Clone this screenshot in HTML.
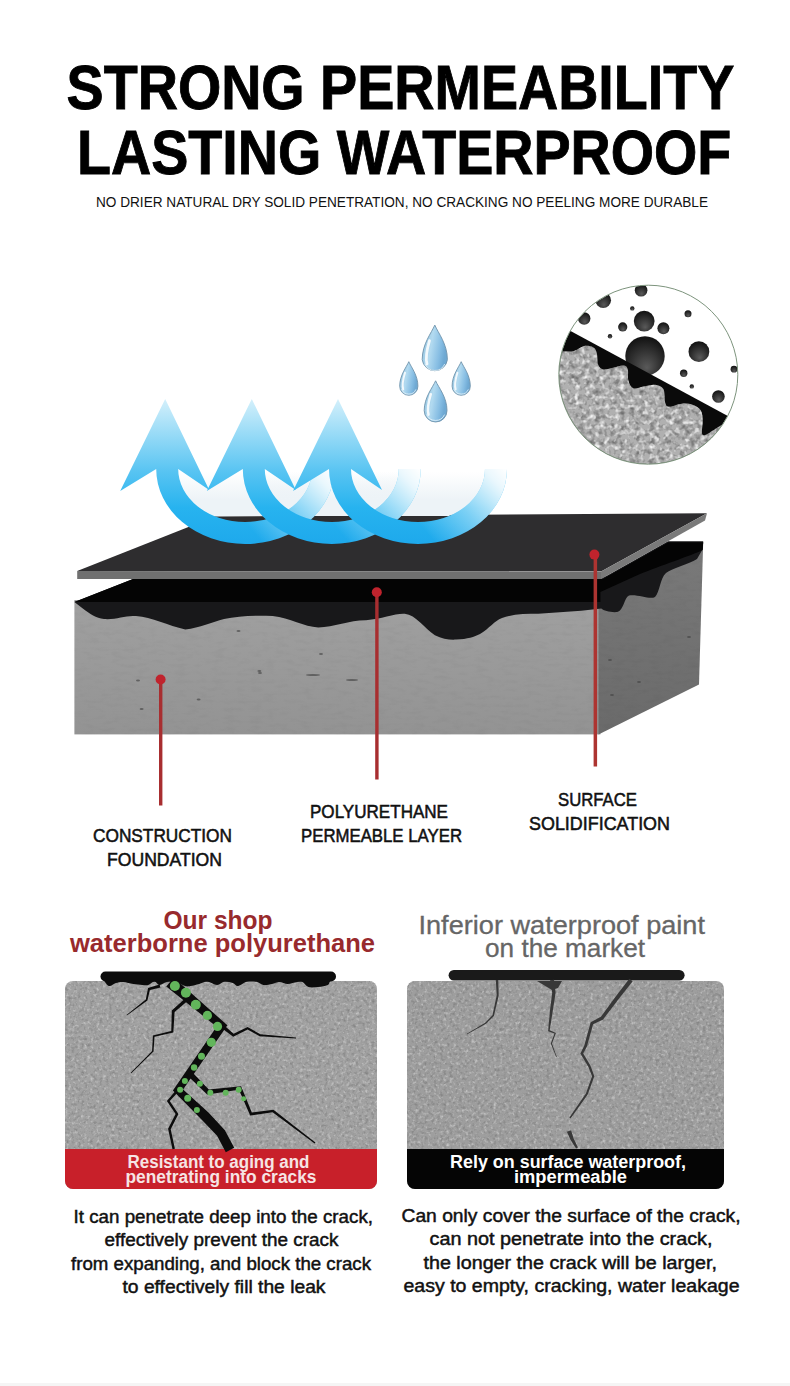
<!DOCTYPE html>
<html><head><meta charset="utf-8">
<style>
html,body{margin:0;padding:0;background:#fff;}
body{width:790px;height:1386px;overflow:hidden;position:relative;}
svg{position:absolute;left:0;top:0;display:block;}
text{font-family:"Liberation Sans", sans-serif;}
</style></head>
<body>
<svg width="790" height="1386" viewBox="0 0 790 1386">
<defs>
  <linearGradient id="arrowGrad" x1="0" y1="0" x2="0" y2="1">
    <stop offset="0" stop-color="#d4f0fb"/>
    <stop offset="0.45" stop-color="#62c9f3"/>
    <stop offset="0.7" stop-color="#2db8f0"/>
    <stop offset="1" stop-color="#1ea9ec"/>
  </linearGradient>
  <linearGradient id="fadeGrad" x1="0" y1="0" x2="1" y2="0">
    <stop offset="0" stop-color="#fff"/>
    <stop offset="0.55" stop-color="#fff"/>
    <stop offset="1" stop-color="#000"/>
  </linearGradient>
  <linearGradient id="dropGrad" x1="0" y1="0" x2="1" y2="0.3">
    <stop offset="0" stop-color="#8dbfdc"/>
    <stop offset="0.45" stop-color="#b2daf0"/>
    <stop offset="0.8" stop-color="#86bde3"/>
    <stop offset="1" stop-color="#6fa9d3"/>
  </linearGradient>
  <radialGradient id="ball" cx="0.5" cy="0.65" r="0.6" fx="0.55" fy="0.8">
    <stop offset="0" stop-color="#5a5a5a"/>
    <stop offset="1" stop-color="#151515"/>
  </radialGradient>
  <clipPath id="circClip"><circle cx="648.3" cy="374.7" r="89.3"/></clipPath>
  <filter id="speckle" x="0" y="0" width="100%" height="100%">
    <feTurbulence type="fractalNoise" baseFrequency="0.2" numOctaves="2" seed="3" result="n"/>
    <feColorMatrix type="matrix" in="n" values="0 0 0 0 0  0 0 0 0 0  0 0 0 0 0  0 0 0 -2.2 1.25" result="a"/>
    <feComposite in="SourceGraphic" in2="a" operator="in"/>
  </filter>
  <filter id="speckleW" x="0" y="0" width="100%" height="100%">
    <feTurbulence type="fractalNoise" baseFrequency="0.2" numOctaves="2" seed="7" result="n"/>
    <feColorMatrix type="matrix" in="n" values="0 0 0 0 1  0 0 0 0 1  0 0 0 0 1  0 0 0 2.4 -1.2" result="a"/>
    <feComposite in="a" in2="SourceGraphic" operator="in"/>
  </filter>
  <filter id="speckle2" x="0" y="0" width="100%" height="100%">
    <feTurbulence type="fractalNoise" baseFrequency="0.32" numOctaves="2" seed="11" result="n"/>
    <feColorMatrix type="matrix" in="n" values="0 0 0 0 0  0 0 0 0 0  0 0 0 0 0  0 0 0 -1.8 0.95" result="a"/>
    <feComposite in="SourceGraphic" in2="a" operator="in"/>
  </filter>
  <filter id="speckle2W" x="0" y="0" width="100%" height="100%">
    <feTurbulence type="fractalNoise" baseFrequency="0.32" numOctaves="2" seed="19" result="n"/>
    <feColorMatrix type="matrix" in="n" values="0 0 0 0 1  0 0 0 0 1  0 0 0 0 1  0 0 0 1.8 -0.95" result="a"/>
    <feComposite in="a" in2="SourceGraphic" operator="in"/>
  </filter>
  <linearGradient id="frontGrad" x1="0" y1="0" x2="0" y2="1">
    <stop offset="0" stop-color="#a0a0a0"/>
    <stop offset="1" stop-color="#939393"/>
  </linearGradient>
  <linearGradient id="sideGrad" x1="0" y1="0" x2="0" y2="1">
    <stop offset="0" stop-color="#7a7a7a"/>
    <stop offset="1" stop-color="#6a6a6a"/>
  </linearGradient>
  <filter id="concN" x="0" y="0" width="100%" height="100%">
    <feTurbulence type="fractalNoise" baseFrequency="0.08 0.25" numOctaves="3" seed="23" result="n"/>
    <feColorMatrix type="matrix" in="n" values="0 0 0 0 0  0 0 0 0 0  0 0 0 0 0  0 0 0 -1.6 0.85" result="a"/>
    <feComposite in="SourceGraphic" in2="a" operator="in"/>
  </filter>
</defs>
<!-- HEADLINE -->
<g id="head" font-weight="bold" fill="#000">
  <text x="66.6" y="108.5" font-size="63.2" stroke="#000" stroke-width="0.9" textLength="667.8" lengthAdjust="spacingAndGlyphs">STRONG PERMEABILITY</text>
  <text x="77" y="173.8" font-size="63.2" stroke="#000" stroke-width="0.9" textLength="654.3" lengthAdjust="spacingAndGlyphs">LASTING WATERPROOF</text>
  <text x="96" y="207" font-size="14" font-weight="normal" fill="#111" textLength="612" lengthAdjust="spacingAndGlyphs">NO DRIER NATURAL DRY SOLID PENETRATION, NO CRACKING NO PEELING MORE DURABLE</text>
</g>


<!-- SLAB -->
<g id="slab">
  <!-- front face concrete -->
  <rect x="74.4" y="600" width="526" height="134.4" fill="url(#frontGrad)"/>
  <rect x="74.4" y="600" width="526" height="134.4" fill="#6a6a6a" filter="url(#concN)" opacity="0.15"/>
  <g fill="#4a4a4a" opacity="0.7">
    <ellipse cx="138" cy="680.6" rx="2" ry="1"/><ellipse cx="141.6" cy="709" rx="2" ry="1"/><ellipse cx="198.6" cy="699.6" rx="2" ry="1"/>
    <ellipse cx="238.5" cy="631" rx="2" ry="1"/><ellipse cx="259.4" cy="671" rx="2" ry="1"/><ellipse cx="313" cy="675" rx="7" ry="1"/>
    <ellipse cx="352" cy="680" rx="6" ry="1"/><ellipse cx="260" cy="673" rx="2" ry="1"/><ellipse cx="321" cy="654" rx="2" ry="1"/>
  </g>
  <!-- side face -->
  <path d="M598.5,579 L703.2,542.2 L699,684.6 L598.5,734.4 Z" fill="url(#sideGrad)"/>
  <path d="M598.5,579 L703.2,542.2 L699,684.6 L598.5,734.4 Z" fill="#4a4a4a" filter="url(#concN)" opacity="0.15"/>
  <g fill="#454545" opacity="0.7"><ellipse cx="610" cy="660" rx="2" ry="1"/><ellipse cx="639" cy="682" rx="2" ry="1"/><ellipse cx="612" cy="695" rx="2" ry="1"/><ellipse cx="689" cy="637" rx="2" ry="1"/></g>
  <!-- dark wave layer -->
  <path d="M74.4,602 L82.8,608.5 C90,614 96,618 104,619 C116,620 126,615 136,616.1 C152,617 168,626 185.3,629.4 C200,628 212,622 224,619 C238,616 256,615 272.7,616.1 C290,618 304,627 318.3,627.5 C334,627 350,620 366,620.2 C382,619 396,613 404.8,613.8 C416,615 424,628 434.9,635.3 C442,639 450,640 456,639.6 C468,639 474,637 480,634 C490,628 494,621 502,618 C512,614 526,613.8 538.2,613.8 L581.2,610.8 L601.3,608.6 C604,611 610,612.5 617.2,612.1 C624,610 624,598 629,595.5 C638,594 650,600 655,597 C660,592 660,578 666,573 C672,568 690,564 697,559 L702.8,549 L703.2,541.2 L668,541.2 L601,579 L133,579 Z" fill="#18181a"/>
  <!-- pure black top band -->
  <path d="M74.4,602 L133,579 L603,579 L668.6,542.2 L703.2,542.2 L702.6,550 C690,556 660,566 640,574 L600.4,592 L600.4,602 Z" fill="#040404"/>
  <!-- sheet -->
  <path d="M77.2,571 L215,516.5 L707,513.3 L601,571.5 Z" fill="#2e2d2f"/>
  <path d="M77.2,571 L601,571.5 L601,579 L77.2,579 Z" fill="#707070"/>
  <path d="M601,571.5 L707,513.3 L705,520.5 L601,579 Z" fill="#7a7a7a"/>
</g>
<!-- MARKERS -->
<g fill="#c0232d">
  <rect x="159" y="679" width="3.4" height="126.5" fill="#a82e30"/>
  <circle cx="160.6" cy="679.5" r="5"/>
  <rect x="375.2" y="592" width="3.4" height="187.5" fill="#a82e30"/>
  <circle cx="376.8" cy="592.3" r="5"/>
  <rect x="593.6" y="554" width="3.5" height="212.5" fill="#ad3431"/>
  <circle cx="594.4" cy="554.6" r="5"/>
</g>
<!-- ARROWS -->
<mask id="m1" maskUnits="userSpaceOnUse" x="100" y="390" width="250" height="170"><rect x="100" y="390" width="250" height="170" fill="url(#fadeG1)"/></mask>
<linearGradient id="fadeG1" gradientUnits="userSpaceOnUse" x1="245" y1="0" x2="334" y2="0"><stop offset="0" stop-color="#fff"/><stop offset="1" stop-color="#000"/></linearGradient>
<linearGradient id="fadeG2" gradientUnits="userSpaceOnUse" x1="332" y1="0" x2="421" y2="0"><stop offset="0" stop-color="#fff"/><stop offset="1" stop-color="#000"/></linearGradient>
<linearGradient id="fadeG3" gradientUnits="userSpaceOnUse" x1="418" y1="0" x2="507" y2="0"><stop offset="0" stop-color="#fff"/><stop offset="1" stop-color="#000"/></linearGradient>
<mask id="m2" maskUnits="userSpaceOnUse" x="100" y="390" width="450" height="170"><rect x="100" y="390" width="450" height="170" fill="url(#fadeG2)"/></mask>
<mask id="m3" maskUnits="userSpaceOnUse" x="100" y="390" width="450" height="170"><rect x="100" y="390" width="450" height="170" fill="url(#fadeG3)"/></mask>
<linearGradient id="ag" gradientUnits="userSpaceOnUse" x1="0" y1="399" x2="0" y2="544">
  <stop offset="0" stop-color="#d4f0fb"/>
  <stop offset="0.5" stop-color="#58c4f2"/>
  <stop offset="0.75" stop-color="#27b3ef"/>
  <stop offset="1" stop-color="#1ea9ec"/>
</linearGradient>
<linearGradient id="wf1" gradientUnits="userSpaceOnUse" x1="245.2" y1="544" x2="334.2" y2="469"><stop offset="0.12" stop-color="#fff" stop-opacity="0"/><stop offset="0.5" stop-color="#fff" stop-opacity="0.4"/><stop offset="0.85" stop-color="#fff" stop-opacity="0.88"/><stop offset="1" stop-color="#fff" stop-opacity="1"/></linearGradient>
<linearGradient id="wf2" gradientUnits="userSpaceOnUse" x1="331.8" y1="544" x2="420.8" y2="469"><stop offset="0.12" stop-color="#fff" stop-opacity="0"/><stop offset="0.5" stop-color="#fff" stop-opacity="0.4"/><stop offset="0.85" stop-color="#fff" stop-opacity="0.88"/><stop offset="1" stop-color="#fff" stop-opacity="1"/></linearGradient>
<linearGradient id="wf3" gradientUnits="userSpaceOnUse" x1="418" y1="544" x2="507" y2="469"><stop offset="0.12" stop-color="#fff" stop-opacity="0"/><stop offset="0.5" stop-color="#fff" stop-opacity="0.4"/><stop offset="0.85" stop-color="#fff" stop-opacity="0.88"/><stop offset="1" stop-color="#fff" stop-opacity="1"/></linearGradient>
<clipPath id="hazeClip"><rect x="100" y="440" width="450" height="76"/></clipPath>
<linearGradient id="hazeG" gradientUnits="userSpaceOnUse" x1="0" y1="472" x2="0" y2="500"><stop offset="0" stop-color="#edf3f7" stop-opacity="0"/><stop offset="1" stop-color="#edf3f7" stop-opacity="1"/></linearGradient>
<g clip-path="url(#hazeClip)" fill="url(#hazeG)"><path d="M178.2,469 A67,53 0 0 0 312.2,469 Z"/><path d="M264.8,469 A67,53 0 0 0 398.8,469 Z"/><path d="M351.0,469 A67,53 0 0 0 485.0,469 Z"/></g>
<g id="arrows">
  <path fill="url(#ag)" d="M156.2,469 A89,75 0 0 0 334.2,469 L312.2,469 A67,53 0 0 1 178.2,469 Z"/>
  <path fill="url(#wf1)" d="M156.2,469 A89,75 0 0 0 334.2,469 L312.2,469 A67,53 0 0 1 178.2,469 Z"/>
  <path fill="url(#ag)" d="M165.2,399 L209.2,490 L178.2,469 L156.2,469 L120.2,491 Z"/>
  <path fill="url(#ag)" d="M242.8,469 A89,75 0 0 0 420.8,469 L398.8,469 A67,53 0 0 1 264.8,469 Z"/>
  <path fill="url(#wf2)" d="M242.8,469 A89,75 0 0 0 420.8,469 L398.8,469 A67,53 0 0 1 264.8,469 Z"/>
  <path fill="url(#ag)" d="M251.8,399 L295.8,490 L264.8,469 L242.8,469 L206.8,491 Z"/>
  <path fill="url(#ag)" d="M329,469 A89,75 0 0 0 507,469 L485,469 A67,53 0 0 1 351,469 Z"/>
  <path fill="url(#wf3)" d="M329,469 A89,75 0 0 0 507,469 L485,469 A67,53 0 0 1 351,469 Z"/>
  <path fill="url(#ag)" d="M338,399 L382,490 L351,469 L329,469 L293,491 Z"/>
</g>
<!-- DROPS -->
<g id="drops"><path d="M434.8,325.1 C438.0,332.7 447.4,344.0 447.4,359.6 A12.7,12.7 0 0 1 422.2,359.6 C422.2,344.0 431.6,332.7 434.8,325.1 Z" fill="url(#dropGrad)" stroke="#6f93ab" stroke-width="0.9"/><path d="M429.5,340.6 C425.9,352.7 425.7,359.6 427.0,364.0" fill="none" stroke="#fff" stroke-width="2.8" stroke-linecap="round" opacity="0.85"/><path d="M424.9,364.0 A10.8,10.8 0 0 0 444.7,364.0" fill="none" stroke="#e8f5fb" stroke-width="0.9" opacity="0.9"/><path d="M408.8,361.7 C411.1,367.1 417.9,375.2 417.9,386.2 A9.1,9.1 0 0 1 399.7,386.2 C399.7,375.2 406.5,367.1 408.8,361.7 Z" fill="url(#dropGrad)" stroke="#6f93ab" stroke-width="0.9"/><path d="M405.0,372.7 C402.4,381.3 402.2,386.2 403.2,389.4" fill="none" stroke="#fff" stroke-width="2.0" stroke-linecap="round" opacity="0.85"/><path d="M401.7,389.4 A7.7,7.7 0 0 0 415.9,389.4" fill="none" stroke="#e8f5fb" stroke-width="0.9" opacity="0.9"/><path d="M461.2,361.7 C463.5,367.1 470.3,375.2 470.3,386.2 A9.1,9.1 0 0 1 452.1,386.2 C452.1,375.2 458.9,367.1 461.2,361.7 Z" fill="url(#dropGrad)" stroke="#6f93ab" stroke-width="0.9"/><path d="M457.4,372.7 C454.8,381.3 454.6,386.2 455.6,389.4" fill="none" stroke="#fff" stroke-width="2.0" stroke-linecap="round" opacity="0.85"/><path d="M454.1,389.4 A7.7,7.7 0 0 0 468.3,389.4" fill="none" stroke="#e8f5fb" stroke-width="0.9" opacity="0.9"/><path d="M435.6,380.8 C438.5,387.4 447.0,397.2 447.0,410.6 A11.4,11.4 0 0 1 424.2,410.6 C424.2,397.2 432.8,387.4 435.6,380.8 Z" fill="url(#dropGrad)" stroke="#6f93ab" stroke-width="0.9"/><path d="M430.8,394.2 C427.6,404.6 427.4,410.6 428.5,414.6" fill="none" stroke="#fff" stroke-width="2.5" stroke-linecap="round" opacity="0.85"/><path d="M426.7,414.6 A9.7,9.7 0 0 0 444.5,414.6" fill="none" stroke="#e8f5fb" stroke-width="0.9" opacity="0.9"/></g>
<!-- CIRCLE -->
<g id="circle">
  <g clip-path="url(#circClip)">
    <rect x="555" y="280" width="190" height="190" fill="#fff"/>
    <g fill="url(#ball)">
    <circle cx="641.1" cy="290.2" r="6.3"/>
    <circle cx="603.2" cy="300.3" r="7.8"/>
    <circle cx="584.2" cy="318.5" r="6.2"/>
    <circle cx="644.2" cy="321.1" r="10.4"/>
    <circle cx="622.7" cy="326.9" r="4.6"/>
    <circle cx="663.4" cy="328.2" r="6"/>
    <circle cx="632.3" cy="308.4" r="2.2"/>
    <circle cx="688" cy="313.7" r="3.5"/>
    <circle cx="610" cy="336.3" r="2.2"/>
    <circle cx="645" cy="356" r="19.7"/>
    <circle cx="698.9" cy="351.7" r="10.4"/>
    <circle cx="683.7" cy="373.2" r="3.7"/>
    <circle cx="734" cy="369.2" r="3.4"/>
    <circle cx="691.8" cy="386.4" r="2.2"/>
    <circle cx="718.4" cy="396.5" r="6.3"/>
    </g>
    <path d="M550,319.9 L745,425.3 L745,470 L550,470 Z" fill="#0a0a0a"/>
    <path d="M550.0,352.0 C552.5,351.9 561.1,351.8 565.1,351.6 C569.1,351.4 570.8,351.9 574.0,351.0 C577.2,350.1 580.9,346.6 584.1,346.0 C587.3,345.4 590.9,346.1 593.0,347.2 C595.1,348.3 596.0,350.0 596.8,352.9 C597.6,355.8 597.0,361.6 598.0,364.3 C599.0,367.1 600.8,368.8 603.1,369.4 C605.4,370.0 608.6,368.7 612.0,368.1 C615.4,367.5 620.8,365.4 623.4,365.6 C626.0,365.8 627.0,366.9 627.8,369.4 C628.6,371.9 627.4,377.6 628.4,380.8 C629.4,384.0 631.0,387.4 633.5,388.4 C636.0,389.3 640.0,387.1 643.6,386.5 C647.2,385.9 651.9,384.3 655.2,384.7 C658.5,385.1 661.7,386.1 663.4,389.1 C665.1,392.2 664.3,400.1 665.3,403.0 C666.2,405.9 666.4,406.7 669.1,406.8 C671.9,406.9 677.8,404.0 681.8,403.7 C685.8,403.4 690.0,403.8 693.2,404.9 C696.4,406.0 699.2,408.0 700.8,410.6 C702.4,413.2 702.5,417.0 702.7,420.8 C702.9,424.6 701.5,431.1 702.0,433.4 C702.5,435.7 703.5,435.5 705.8,434.7 C708.1,433.9 709.5,432.5 716.0,428.4 C722.5,424.3 740.2,413.1 745.0,410.0 L745,470 L550,470 Z" fill="#b0b0b0"/>
    <path d="M550.0,352.0 C552.5,351.9 561.1,351.8 565.1,351.6 C569.1,351.4 570.8,351.9 574.0,351.0 C577.2,350.1 580.9,346.6 584.1,346.0 C587.3,345.4 590.9,346.1 593.0,347.2 C595.1,348.3 596.0,350.0 596.8,352.9 C597.6,355.8 597.0,361.6 598.0,364.3 C599.0,367.1 600.8,368.8 603.1,369.4 C605.4,370.0 608.6,368.7 612.0,368.1 C615.4,367.5 620.8,365.4 623.4,365.6 C626.0,365.8 627.0,366.9 627.8,369.4 C628.6,371.9 627.4,377.6 628.4,380.8 C629.4,384.0 631.0,387.4 633.5,388.4 C636.0,389.3 640.0,387.1 643.6,386.5 C647.2,385.9 651.9,384.3 655.2,384.7 C658.5,385.1 661.7,386.1 663.4,389.1 C665.1,392.2 664.3,400.1 665.3,403.0 C666.2,405.9 666.4,406.7 669.1,406.8 C671.9,406.9 677.8,404.0 681.8,403.7 C685.8,403.4 690.0,403.8 693.2,404.9 C696.4,406.0 699.2,408.0 700.8,410.6 C702.4,413.2 702.5,417.0 702.7,420.8 C702.9,424.6 701.5,431.1 702.0,433.4 C702.5,435.7 703.5,435.5 705.8,434.7 C708.1,433.9 709.5,432.5 716.0,428.4 C722.5,424.3 740.2,413.1 745.0,410.0 L745,470 L550,470 Z" fill="#6a6a6a" filter="url(#speckle)"/>
    <path d="M550.0,352.0 C552.5,351.9 561.1,351.8 565.1,351.6 C569.1,351.4 570.8,351.9 574.0,351.0 C577.2,350.1 580.9,346.6 584.1,346.0 C587.3,345.4 590.9,346.1 593.0,347.2 C595.1,348.3 596.0,350.0 596.8,352.9 C597.6,355.8 597.0,361.6 598.0,364.3 C599.0,367.1 600.8,368.8 603.1,369.4 C605.4,370.0 608.6,368.7 612.0,368.1 C615.4,367.5 620.8,365.4 623.4,365.6 C626.0,365.8 627.0,366.9 627.8,369.4 C628.6,371.9 627.4,377.6 628.4,380.8 C629.4,384.0 631.0,387.4 633.5,388.4 C636.0,389.3 640.0,387.1 643.6,386.5 C647.2,385.9 651.9,384.3 655.2,384.7 C658.5,385.1 661.7,386.1 663.4,389.1 C665.1,392.2 664.3,400.1 665.3,403.0 C666.2,405.9 666.4,406.7 669.1,406.8 C671.9,406.9 677.8,404.0 681.8,403.7 C685.8,403.4 690.0,403.8 693.2,404.9 C696.4,406.0 699.2,408.0 700.8,410.6 C702.4,413.2 702.5,417.0 702.7,420.8 C702.9,424.6 701.5,431.1 702.0,433.4 C702.5,435.7 703.5,435.5 705.8,434.7 C708.1,433.9 709.5,432.5 716.0,428.4 C722.5,424.3 740.2,413.1 745.0,410.0 L745,470 L550,470 Z" fill="#fff" filter="url(#speckleW)"/>
  </g>
  <circle cx="648.3" cy="374.7" r="89.5" fill="none" stroke="#7d947d" stroke-width="1"/>
</g>

<!-- LABELS -->
<g id="labels" fill="#111" font-size="19" stroke="#111" stroke-width="0.55">
  <text x="93" y="841.8" textLength="139" lengthAdjust="spacingAndGlyphs">CONSTRUCTION</text>
  <text x="107" y="865.8" textLength="115" lengthAdjust="spacingAndGlyphs">FOUNDATION</text>
  <text x="310" y="817.5" textLength="138" lengthAdjust="spacingAndGlyphs">POLYURETHANE</text>
  <text x="301" y="842" textLength="161" lengthAdjust="spacingAndGlyphs">PERMEABLE LAYER</text>
  <text x="558" y="806" textLength="79" lengthAdjust="spacingAndGlyphs">SURFACE</text>
  <text x="529" y="829.6" textLength="141" lengthAdjust="spacingAndGlyphs">SOLIDIFICATION</text>
</g>

<!-- BOTTOM HEADINGS -->
<g font-weight="bold" fill="#982a2d" font-size="25">
  <text x="163.5" y="929" textLength="109" lengthAdjust="spacingAndGlyphs">Our shop</text>
  <text x="70" y="952.2" textLength="305" lengthAdjust="spacingAndGlyphs">waterborne polyurethane</text>
</g>
<g fill="#666" font-size="25" stroke="#666" stroke-width="0.3">
  <text x="418.5" y="934.4" textLength="286.5" lengthAdjust="spacingAndGlyphs">Inferior waterproof paint</text>
  <text x="485" y="956.7" textLength="160" lengthAdjust="spacingAndGlyphs">on the market</text>
</g>


<!-- BOXES -->
<rect x="65" y="981" width="312" height="208" rx="8" fill="#a2a2a2"/>
<clipPath id="bcL"><rect x="65" y="981" width="312" height="208" rx="8"/></clipPath>
<rect clip-path="url(#bcL)" x="65" y="981" width="312" height="168" fill="#707070" filter="url(#speckle2)" opacity="0.8"/>
<rect clip-path="url(#bcL)" x="65" y="981" width="312" height="168" fill="#fff" filter="url(#speckle2W)" opacity="0.6"/>
<path d="M65 1149 H377 V1181 a8 8 0 0 1 -8 8 H73 a8 8 0 0 1 -8 -8 Z" fill="#c8202a"/>
<g fill="#0c0c0c">
  <rect x="100.5" y="971.5" width="235.5" height="10" rx="5"/>
  <path d="M103.0,979.0 C104.0,980.2 106.7,985.3 108.8,986.0 C111.0,986.7 113.5,983.7 115.9,983.0 C118.3,982.3 120.4,981.8 123.3,982.0 C126.2,982.2 130.1,983.5 133.3,984.0 C136.4,984.5 139.8,984.8 142.3,985.0 C144.8,985.2 146.2,985.6 148.2,985.0 C150.2,984.4 152.5,981.5 154.4,981.5 C156.3,981.5 157.4,984.9 159.5,985.0 C161.5,985.1 163.9,982.5 166.6,982.0 C169.3,981.5 172.5,981.3 175.6,982.0 C178.7,982.7 182.7,985.3 185.2,986.0 C187.7,986.7 188.1,986.3 190.4,986.0 C192.7,985.7 196.4,984.8 199.2,984.0 C202.1,983.2 204.4,981.3 207.3,981.5 C210.3,981.7 214.2,985.0 217.1,985.0 C220.0,985.0 222.0,981.8 224.6,981.5 C227.2,981.2 230.6,982.2 232.8,983.0 C235.1,983.8 235.6,986.2 238.0,986.0 C240.3,985.8 244.0,982.2 247.0,981.5 C250.1,980.8 253.4,980.9 256.1,981.5 C258.8,982.1 260.7,984.6 263.4,985.0 C266.0,985.4 269.3,984.5 272.0,984.0 C274.7,983.5 276.8,982.0 279.4,982.0 C282.0,982.0 284.8,984.0 287.7,984.0 C290.7,984.0 294.6,982.3 297.1,982.0 C299.5,981.7 300.5,981.2 302.5,982.0 C304.4,982.8 305.9,986.2 308.5,987.0 C311.1,987.8 314.8,987.3 318.0,987.0 C321.2,986.7 325.7,985.9 327.7,985.0 C329.7,984.1 329.1,982.5 330.0,981.5 C330.9,980.5 332.5,979.4 333.0,979.0 L333,975 L103,975 Z"/>
  <path d="M166.3,986.4 L216.6,1026.7 L172.9,1090.5 L201.5,1119.5 L217.1,1135.8 L225.8,1152.2 L234.2,1147.8 L224.9,1130.2 L208.5,1112.5 L183.1,1089.5 L227.4,1025.3 L173.7,977.6 Z"/>
  <path d="M186.9,1075.1 L207.2,1094.5 L238.9,1089.8 L250.2,1115.5 L272.6,1112.3 L314.6,1143.5 L315.4,1142.5 L273.4,1109.7 L251.8,1112.5 L241.1,1086.2 L208.8,1089.5 L191.1,1070.9 Z"/>
  <path d="M159.6,984.6 L148.1,988.1 L145.8,999.5 L126.8,1014.7 L127.2,1015.3 L147.4,1000.5 L149.9,989.9 L160.4,987.4 Z"/>
  <path d="M184.8,998.7 L171.8,1010.6 L171.3,1030.9 L152.9,1035.5 L152.1,1050.9 L130.7,1072.7 L131.3,1073.3 L153.5,1051.5 L154.5,1036.7 L173.3,1032.5 L174.6,1012.0 L187.2,1001.3 Z"/>
  <path d="M220.9,1027.4 L233.2,1036.8 L247.6,1029.4 L259.7,1036.3 L296.0,1038.4 L296.0,1037.6 L260.3,1034.3 L247.6,1027.0 L233.6,1033.8 L223.1,1024.6 Z"/>
  <path d="M177.9,1088.0 L166.9,1100.9 L175.6,1114.1 L168.1,1128.8 L172.5,1149.3 L174.9,1148.7 L170.7,1129.2 L178.4,1113.9 L169.7,1101.1 L180.1,1090.0 Z"/>
</g>
<g fill="#62b55b"><circle cx="174.9" cy="986" r="5"/><circle cx="185.9" cy="992.7" r="5"/><circle cx="195.8" cy="1004.8" r="5"/><circle cx="207.4" cy="1015.4" r="4.6"/><circle cx="217.5" cy="1026.4" r="4.6"/><circle cx="211.3" cy="1042.3" r="4.6"/><circle cx="201.5" cy="1056.2" r="3.5"/><circle cx="194.1" cy="1067.5" r="3.2"/><circle cx="184.9" cy="1080.9" r="3"/><circle cx="180.1" cy="1089.7" r="3"/><circle cx="187.7" cy="1098.3" r="3.5"/><circle cx="196.9" cy="1109.9" r="3"/><circle cx="199.9" cy="1083.7" r="3"/><circle cx="210.3" cy="1092.7" r="3"/><circle cx="225.7" cy="1092.7" r="3"/><circle cx="238.7" cy="1089.7" r="3"/><circle cx="243.6" cy="1098.7" r="2.5"/></g>

<rect x="407" y="981" width="317" height="208" rx="8" fill="#9e9e9e"/>
<clipPath id="bcR"><rect x="407" y="981" width="317" height="208" rx="8"/></clipPath>
<rect clip-path="url(#bcR)" x="407" y="981" width="317" height="168" fill="#707070" filter="url(#speckle2)" opacity="0.8"/>
<rect clip-path="url(#bcR)" x="407" y="981" width="317" height="168" fill="#fff" filter="url(#speckle2W)" opacity="0.6"/>
<path d="M407 1149 H724 V1181 a8 8 0 0 1 -8 8 H415 a8 8 0 0 1 -8 -8 Z" fill="#050505"/>
<rect x="448.6" y="970" width="236" height="10.5" rx="5.2" fill="#1a1a1a"/>
<g fill="#383838">
  <path d="M495.8,980.1 L496.7,995.2 L492.5,1015.2 L485.2,1022.7 L466.8,1033.7 L467.2,1034.3 L486.0,1023.7 L493.9,1016.0 L498.7,995.4 L498.2,979.9 Z"/><path d="M550.0,980.3 L552.2,992.8 L550.0,1010.3 L548.1,1031.3 L554.5,1033.6 L550.8,1043.4 L556.2,1057.1 L556.8,1056.9 L552.0,1043.4 L555.9,1033.0 L549.7,1030.3 L552.8,1010.7 L555.6,992.8 L554.0,979.7 Z"/><path d="M537,981 L562,981 L558,988 L552,990 Z"/><path d="M629.3,978.7 L615.7,996.6 L600.9,1016.8 L590.7,1022.2 L584.3,1045.5 L580.4,1053.5 L588.3,1066.7 L592.1,1076.3 L585.9,1093.6 L569.4,1117.6 L570.6,1118.4 L587.7,1094.6 L594.3,1076.3 L590.5,1065.7 L583.2,1053.5 L586.9,1046.5 L593.1,1024.2 L603.1,1019.4 L618.7,999.0 L632.7,981.3 Z"/><path d="M566.9,1131.8 L570.5,1139.7 L576.1,1148.5 L577.9,1147.5 L573.5,1138.3 L571.1,1130.2 Z"/>
</g>

<g font-weight="bold" fill="#f6e4e4" font-size="18">
  <text x="127.5" y="1168" textLength="182" lengthAdjust="spacingAndGlyphs">Resistant to aging and</text>
  <text x="125.5" y="1182.5" textLength="191" lengthAdjust="spacingAndGlyphs">penetrating into cracks</text>
</g>
<g font-weight="bold" fill="#fff" font-size="18">
  <text x="450" y="1168.4" textLength="236" lengthAdjust="spacingAndGlyphs">Rely on surface waterproof,</text>
  <text x="514" y="1182.5" textLength="113" lengthAdjust="spacingAndGlyphs">impermeable</text>
</g>

<!-- PARAGRAPHS -->
<g fill="#111" font-size="17.5" stroke="#111" stroke-width="0.45">
  <text x="73.5" y="1222.5" textLength="299.5" lengthAdjust="spacingAndGlyphs">It can penetrate deep into the crack,</text>
  <text x="104.5" y="1246.3" textLength="234" lengthAdjust="spacingAndGlyphs">effectively prevent the crack</text>
  <text x="71" y="1270" textLength="300" lengthAdjust="spacingAndGlyphs">from expanding, and block the crack</text>
  <text x="122.5" y="1293.4" textLength="203" lengthAdjust="spacingAndGlyphs">to effectively fill the leak</text>

  <text x="401.5" y="1221.6" textLength="339" lengthAdjust="spacingAndGlyphs">Can only cover the surface of the crack,</text>
  <text x="429.5" y="1245.2" textLength="283" lengthAdjust="spacingAndGlyphs">can not penetrate into the crack,</text>
  <text x="423.5" y="1268.8" textLength="293.5" lengthAdjust="spacingAndGlyphs">the longer the crack will be larger,</text>
  <text x="403.5" y="1292.4" textLength="336" lengthAdjust="spacingAndGlyphs">easy to empty, cracking, water leakage</text>
</g>
<rect x="0" y="1383" width="790" height="3" fill="#f5f5f5"/>
</svg>
</body></html>
